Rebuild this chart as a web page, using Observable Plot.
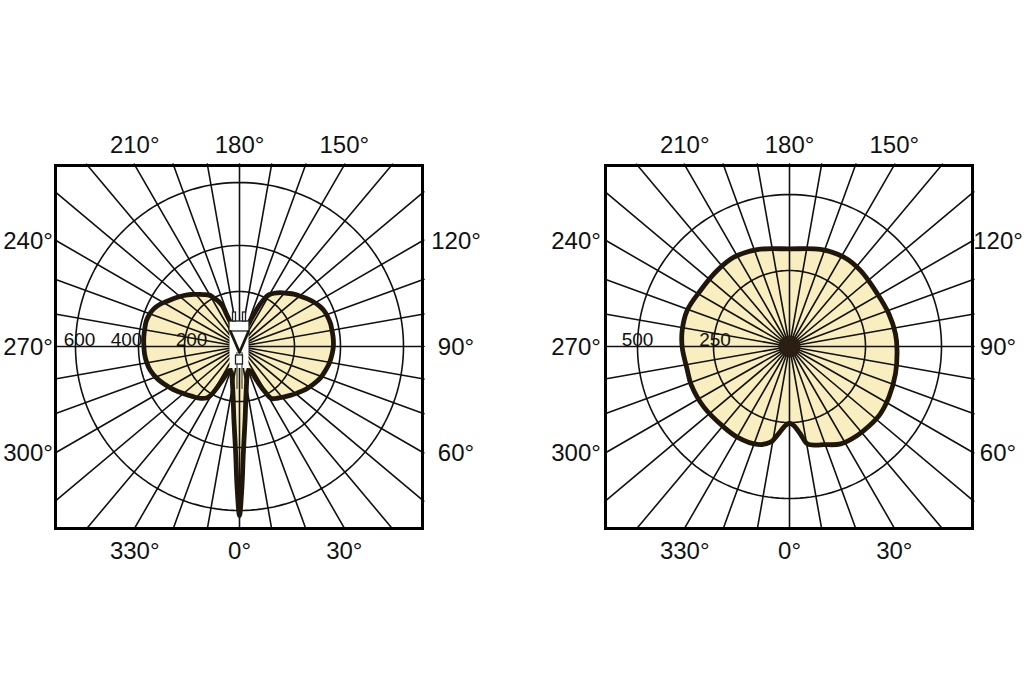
<!DOCTYPE html>
<html><head><meta charset="utf-8">
<script src="https://cdn.jsdelivr.net/npm/d3@7"></script>
<script src="https://cdn.jsdelivr.net/npm/@observablehq/plot@0.6"></script>
<style>
html,body{margin:0;padding:0;background:#fff;}
#wrap{display:flex;width:1025px;height:700px;overflow:hidden;}
#wrap svg{display:block;flex:none;}
</style></head><body><div id="wrap"></div>
<script>
// ---------------- data ----------------
const angleLabels = [0, 30, 60, 90, 120, 150, 180, 210, 240, 270, 300, 330];
const spokeAngles = [0,10,20,30,40,50,60,70,80,90,100,110,120,130,140,150,160,170,180,190,200,210,220,230,240,250,260,270,280,290,300,310,320,330,340,350];

// left diagram (cd), rings 200/400/600
const leftRings = [200, 400, 600];
const leftAngles = [0,1,2,3,4.5,7,10,14,19,23,25.5,27.5,29.5,31.5,36,41,46,51,57,63,69,75,80,85.5,90,95.7,100,104,109,113,117,121,125,129.5,134,138,143,147,150,152,154,155.5,157,158.5,162,170,180,190,198,200,201.7,202.9,205,207.8,210.5,214.5,219,223,227.5,233,238,242,246.3,250,254.4,259,264.4,269,274.4,280,285.1,291,296.2,303,310.3,316,322,327.8,330,333,335,337,341,346,350,353,355.5,357,358,359];
const leftValues = [616,524,422,352,274,189,145,113,95,95,109,153,193,226,239,252,267,283,304,322,339,350,359,365,369,370,369,369,365,360,350,337,322,304,289,272,254,237,222,204,171,138,109,87,76,73,73,73,76,87,120,162,182,200,220,235,252,270,289,311,332,352,368,376,381,380,379,377,375,370,362,346,328,304,278,261,246,224,199,139,109,95,95,113,145,189,274,352,422,524];

// right diagram (cd), rings 250/500
const rightRings = [250, 500];
const rightAngles = [0,3,7,10.3,15,19.2,27.7,37.3,45,53,63,75.6,87.9,96.8,108.2,121,137,148.7,162.3,180,198.4,211.9,223.6,237.8,250.6,261.5,270.4,283,291,305.3,320.9,330,341.8,348.8,352.1,357.1];
const rightValues = [252,260,289,325,336,342,362,368,370,372,367,360,354,351,344,337,342,344,335,321,336,346,345,346,357,357,353,345,347,345,342,344,339,321,295,260];

// ---------------- drawing ----------------
const FONT = "'Liberation Sans', Arial, Helvetica, sans-serif";
const HW = 183.5, HH = 181.5;
const rad = a => a * Math.PI / 180;
const pt = (a, r) => ({x: r * Math.sin(rad(a)), y: r * Math.cos(rad(a))});
function edgeDist(a) {
  const s = Math.abs(Math.sin(rad(a))), c = Math.abs(Math.cos(rad(a)));
  return Math.min(s > 1e-9 ? HW / s : Infinity, c > 1e-9 ? HH / c : Infinity);
}
function labelPos(a, sideL, sideR) {
  const s = Math.sin(rad(a)), c = Math.cos(rad(a));
  if (Math.abs(s) * HH <= Math.abs(c) * HW + 1e-6) {
    return {x: HH * s / Math.abs(c), y: c > 0 ? HH + 23 : -(HH + 20), t: a + "°"};
  }
  return {x: s > 0 ? HW + sideR : -(HW + sideL), y: HW * c / Math.abs(s) + 1, t: a + "°"};
}

function diagram({angles, values, rings, ringRange, ringDx, width, marginLeft, sideL, sideR, lamp, hub}) {
  const rs = d3.scaleLinear().domain([0, ...rings]).range([0, ...ringRange]);
  const curve = angles.map((a, i) => pt(a, rs(values[i])));
  const ringPts = rings.flatMap(v => d3.range(0, 361, 2).map(a => ({...pt(a, rs(v)), ring: v})));
  const spokes = spokeAngles.flatMap(a => [{...pt(a, 0), a}, {...pt(a, edgeDist(a) + 1), a}]);
  const aLabels = angleLabels.map(a => labelPos(a, sideL, sideR));
  const rLabels = rings.map((v, i) => ({x: -rs(v) + ringDx[i], y: -7, t: String(v)}));
  const marks = [
    Plot.line(curve, {x: "x", y: "y", fill: "#f8eebf", stroke: "none", curve: "catmull-rom-closed"}),
    Plot.line(ringPts, {x: "x", y: "y", z: "ring", stroke: "#111", strokeWidth: 1.6}),
    Plot.line(spokes, {x: "x", y: "y", z: "a", stroke: "#111", strokeWidth: 1.6}),
    Plot.line(curve, {x: "x", y: "y", fill: "none", stroke: "#1f170b", strokeWidth: 4.8, strokeLinejoin: "round", curve: "catmull-rom-closed"})
  ];
  if (lamp) {
    const body = [{x1: -9.5, x2: 9.5, y1: -15, y2: 22}];
    const parts = [
      {x1: -10, x2: 10, y1: -25, y2: -15},
      {x1: -6.5, x2: -3.5, y1: -34, y2: -25},
      {x1: 3.5, x2: 6.5, y1: -34, y2: -25},
      {x1: -3.5, x2: 3.5, y1: 9, y2: 18}
    ];
    const vee = [{x: -9, y: -15}, {x: 0, y: 6}, {x: 9, y: -15}];
    const stem = [{x: -2.5, y: 6, k: 0}, {x: -2.5, y: 42, k: 0}, {x: 2.5, y: 6, k: 1}, {x: 2.5, y: 42, k: 1}];
    marks.push(
      Plot.rect(body, {x1: "x1", x2: "x2", y1: "y1", y2: "y2", fill: "white"}),
      Plot.line(stem, {x: "x", y: "y", z: "k", stroke: "#222", strokeWidth: 1}),
      Plot.rect(parts, {x1: "x1", x2: "x2", y1: "y1", y2: "y2", fill: "white", stroke: "#222", strokeWidth: 1.3}),
      Plot.line(vee, {x: "x", y: "y", stroke: "#1f170b", strokeWidth: 2.8})
    );
  }
  if (hub) marks.push(Plot.dot([{x: 0, y: 0}], {x: "x", y: "y", r: 11, fill: "#2a1f12"}));
  marks.push(
    Plot.frame({stroke: "#000", strokeWidth: 3}),
    Plot.text(aLabels, {x: "x", y: "y", text: "t", fontSize: 24, fill: "#111", fontFamily: FONT}),
    Plot.text(rLabels, {x: "x", y: "y", text: "t", fontSize: 19, fill: "#111", fontFamily: FONT})
  );
  return Plot.plot({
    width, height: 700,
    marginLeft, marginRight: width - marginLeft - 367, marginTop: 165, marginBottom: 172,
    x: {domain: [-184, 183], axis: null},
    y: {domain: [182, -181], axis: null},
    style: {fontFamily: FONT, background: "white", overflow: "visible"},
    marks
  });
}

const wrap = document.getElementById("wrap");
wrap.appendChild(diagram({angles: leftAngles, values: leftValues, rings: leftRings,
  ringRange: [55, 101, 164], ringDx: [7, -12, 4], width: 512, marginLeft: 55, sideL: 28, sideR: 33, lamp: true, hub: false}));
wrap.appendChild(diagram({angles: rightAngles, values: rightValues, rings: rightRings,
  ringRange: [76, 152], ringDx: [1.5, 0], width: 513, marginLeft: 93, sideL: 30, sideR: 25, lamp: false, hub: true}));
</script></body></html>
